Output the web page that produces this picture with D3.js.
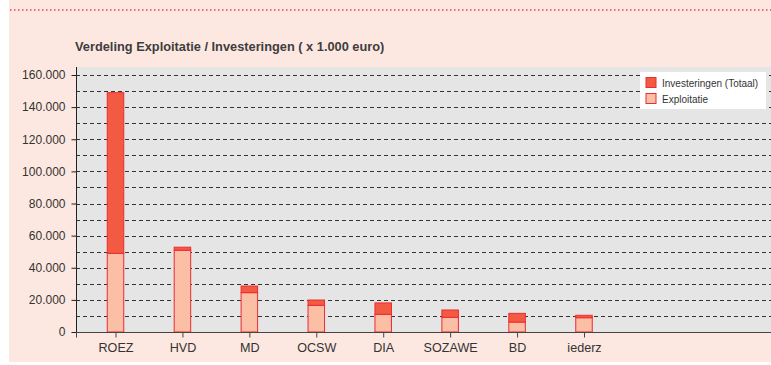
<!DOCTYPE html>
<html>
<head>
<meta charset="utf-8">
<script src="https://cdn.jsdelivr.net/npm/d3@7/dist/d3.min.js"></script>
<style>
  html, body { margin: 0; padding: 0; background: #fff; }
  svg { display: block; }
  text { font-family: "Liberation Sans", Arial, sans-serif; fill: #333; }
</style>
</head>
<body>
<svg id="chart" width="771" height="365"></svg>
<script>
// Afdelingen en bedragen (x 1.000 euro)
const categories = ["ROEZ", "HVD", "MD", "OCSW", "DIA", "SOZAWE", "BD", "iederz"];
const exploitatie = [49000, 50900, 24500, 16600, 11000, 9100, 6200, 8900];
const investeringen = [100000, 1900, 4100, 3300, 7100, 4600, 5400, 1500];
const yTicks = [0, 20000, 40000, 60000, 80000, 100000, 120000, 140000, 160000];
const seriesNames = ["Investeringen (Totaal)", "Exploitatie"];

const FONT = '"Liberation Sans", Arial, sans-serif';
const svg = d3.select("#chart");
const W = 771;

// panel background and dotted rule
svg.append("rect").attr("x", 9).attr("y", 0).attr("width", W - 9).attr("height", 362).attr("fill", "#fde8e1");
svg.append("line").attr("x1", 10).attr("x2", W).attr("y1", 10).attr("y2", 10)
  .attr("stroke", "#f0404e").attr("stroke-width", 1.5).attr("stroke-dasharray", "1.5,2.5");

const plot = { left: 76, right: 776, top: 67, bottom: 332 };

const y = d3.scaleLinear().domain([0, 160000]).range([plot.bottom, 75]);
const x = d3.scalePoint().domain(categories).range([115.5, 584]);
const barW = 16.5;

// plot area
svg.append("rect").attr("x", plot.left).attr("y", plot.top)
  .attr("width", plot.right - plot.left).attr("height", plot.bottom - plot.top).attr("fill", "#e5e5e5");

// dashed grid every 10.000
const grid = d3.range(10000, 160001, 10000);
svg.append("g").selectAll("line").data(grid).join("line")
  .attr("x1", plot.left).attr("x2", plot.right)
  .attr("y1", d => Math.round(y(d)) + 0.5).attr("y2", d => Math.round(y(d)) + 0.5)
  .attr("stroke", "#333").attr("stroke-width", 1).attr("stroke-dasharray", "4,3");

// stacked bars
const stackData = categories.map((c, i) => ({ cat: c, expl: exploitatie[i], inv: investeringen[i] }));
const bars = svg.append("g");
bars.selectAll("rect.expl").data(stackData).join("rect").attr("class", "expl")
  .attr("x", d => x(d.cat) - barW / 2).attr("width", barW)
  .attr("y", d => y(d.expl)).attr("height", d => y(0) - y(d.expl))
  .attr("fill", "#fbbfa6").attr("stroke", "#ee2a32").attr("stroke-width", 1);
bars.selectAll("rect.inv").data(stackData).join("rect").attr("class", "inv")
  .attr("x", d => x(d.cat) - barW / 2).attr("width", barW)
  .attr("y", d => y(d.expl + d.inv)).attr("height", d => y(d.expl) - y(d.expl + d.inv))
  .attr("fill", "#f35a42").attr("stroke", "#ee2a32").attr("stroke-width", 1);

// y axis
const fmt = d => d === 0 ? "0" : d3.format(",")(d).replace(/,/g, ".");
const yAxis = d3.axisLeft(y).tickValues(yTicks).tickFormat(fmt).tickSize(5).tickPadding(6);
const gy = svg.append("g").attr("transform", `translate(${plot.left + 0.5},0)`).call(yAxis);
gy.select(".domain").remove();
gy.append("line").attr("x1", 0).attr("x2", 0).attr("y1", plot.top).attr("y2", plot.bottom).attr("stroke", "#222");
gy.selectAll(".tick line").attr("stroke", "#222");
gy.selectAll(".tick text").attr("font-size", 12).style("fill", "#333").style("font-family", FONT);

// x axis
const xAxis = d3.axisBottom(x).tickSize(5).tickPadding(6);
const gx = svg.append("g").attr("transform", `translate(0,${plot.bottom + 0.5})`).call(xAxis);
gx.select(".domain").remove();
gx.append("line").attr("x1", plot.left).attr("x2", plot.right).attr("stroke", "#444");
gx.append("line").attr("x1", plot.left + 0.5).attr("x2", plot.left + 0.5).attr("y1", 0).attr("y2", 5).attr("stroke", "#444");
gx.selectAll(".tick line").attr("stroke", "#444");
gx.selectAll(".tick text").attr("font-size", 12.6).style("fill", "#333").style("font-family", FONT);

// title
svg.append("text").attr("x", 75).attr("y", 51)
  .attr("font-size", 12.8).attr("font-weight", "bold").style("fill", "#3d3d3d")
  .text("Verdeling Exploitatie / Investeringen ( x 1.000 euro)");

// legend
const lg = svg.append("g");
lg.append("rect").attr("x", 640).attr("y", 72).attr("width", 126).attr("height", 37).attr("fill", "#fff");
const legendFills = ["#f35a42", "#fbbfa6"];
seriesNames.forEach((name, i) => {
  lg.append("rect").attr("x", 646).attr("y", 77.5 + i * 16).attr("width", 10).attr("height", 10)
    .attr("fill", legendFills[i]).attr("stroke", "#ee2a32");
  lg.append("text").attr("x", 662).attr("y", 87 + i * 16).attr("font-size", 10).style("fill", "#333").text(name);
});
</script>
</body>
</html>
